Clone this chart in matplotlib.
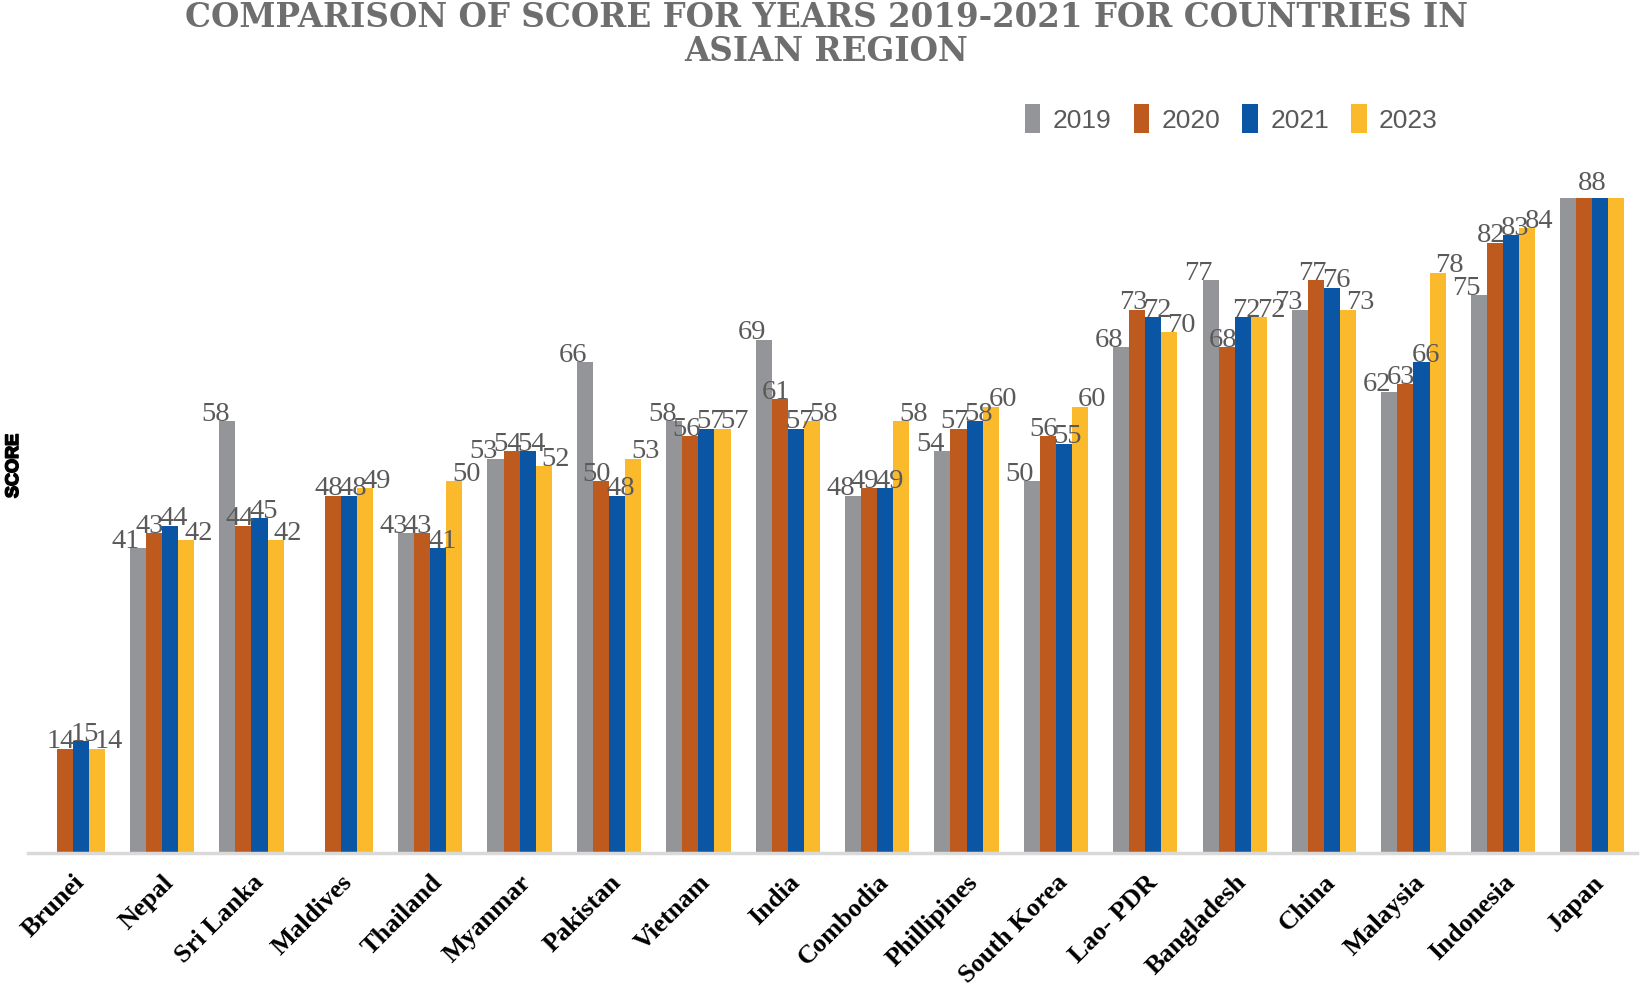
import numpy as np
import matplotlib.pyplot as plt
import matplotlib.patheffects as pe
from matplotlib.patches import Patch

# 数据
countries = ['Brunei', 'Nepal', 'Sri Lanka', 'Maldives', 'Thailand', 'Myanmar',
             'Pakistan', 'Vietnam', 'India', 'Combodia', 'Phillipines',
             'South Korea', 'Lao- PDR', 'Bangladesh', 'China', 'Malaysia',
             'Indonesia', 'Japan']
years = ['2019', '2020', '2021', '2023']
score_2019 = [np.nan, 41, 58, np.nan, 43, 53, 66, 58, 69, 48, 54, 50, 68, 77, 73, 62, 75, 88]
score_2020 = [14, 43, 44, 48, 43, 54, 50, 56, 61, 49, 57, 56, 73, 68, 77, 63, 82, 88]
score_2021 = [15, 44, 45, 48, 41, 54, 48, 57, 57, 49, 58, 55, 72, 72, 76, 66, 83, 88]
score_2023 = [14, 42, 42, 49, 50, 52, 53, 57, 58, 58, 60, 60, 70, 72, 73, 78, 84, 88]

colors = ['#939598', '#BE5A1D', '#0B56A4', '#FBBA2B']
label_color = '#595959'

fig = plt.figure(figsize=(16.46, 9.87), dpi=100)
ax = fig.add_axes([0.017, 0.1348, 0.9775, 0.7538])

x = np.arange(len(countries))
w = 0.18
series = [score_2019, score_2020, score_2021, score_2023]
for i, vals in enumerate(series):
    pos = x + (i - 1.5) * w
    ax.bar(pos, vals, width=w, color=colors[i], edgecolor='none', zorder=2)

# 数据标签（横向稍微错开；四个值相同时只标一次）
spread = 0.27
for j in range(len(countries)):
    vals = [s[j] for s in series]
    if len(set(vals)) == 1:
        ax.annotate(f'{vals[0]:.0f}', (x[j], vals[0]), xytext=(0, 7),
                    textcoords='offset points', ha='center', va='baseline',
                    fontsize=20.5, family='Liberation Serif', color=label_color)
        continue
    for i, v in enumerate(vals):
        if np.isnan(v):
            continue
        ax.annotate(f'{v:.0f}', (x[j] + (i - 1.5) * spread, v), xytext=(0, 1),
                    textcoords='offset points', ha='center', va='baseline',
                    fontsize=20.5, family='Liberation Serif', color=label_color)

ax.set_xlim(-0.5, len(countries) - 0.5)
ax.set_ylim(0, 100)
ax.set_yticks([])
ax.set_xticks(x)
ax.set_xticklabels(countries, rotation=45, ha='right', va='top',
                   rotation_mode='anchor', fontsize=19,
                   family='Liberation Serif', fontweight='bold')
ax.tick_params(axis='x', length=0, pad=12)
for side in ['top', 'right', 'left']:
    ax.spines[side].set_visible(False)
ax.spines['bottom'].set_color('#D9D9D9')
ax.spines['bottom'].set_linewidth(2.5)

# 标题
title_kw = dict(ha='center', va='baseline', fontsize=23.5, family='DejaVu Serif',
                fontweight='bold', color='#6E6E6E')
fig.text(0.502, 0.9725, 'COMPARISON OF SCORE FOR YEARS 2019-2021 FOR COUNTRIES IN', **title_kw)
fig.text(0.502, 0.9385, 'ASIAN REGION', **title_kw)

fig.text(0.0082, 0.527, 'SCORE', rotation=90, ha='center', va='center',
         fontsize=13, family='Liberation Sans', fontweight='bold', color='black',
         path_effects=[pe.withStroke(linewidth=1.2, foreground='black')])

handles = [Patch(facecolor=c, edgecolor='none') for c in colors]
fig.legend(handles, years, loc='center', bbox_to_anchor=(0.748, 0.879),
           ncol=4, frameon=False, handlelength=0.6, handleheight=1.3,
           handletextpad=0.45, columnspacing=0.85,
           prop={'family': 'Liberation Sans', 'size': 19}, labelcolor=label_color)

fig.savefig('out.png', dpi=100)
